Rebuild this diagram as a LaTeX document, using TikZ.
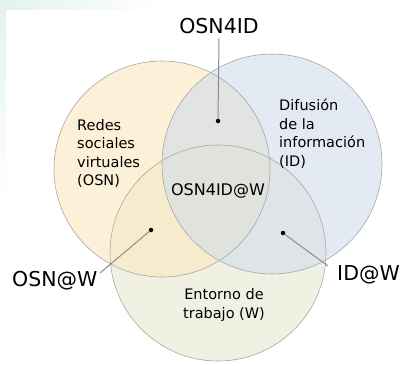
\documentclass[tikz,border=0pt]{standalone}
\usepackage{fontspec}
\setmainfont{DejaVu Sans}
\definecolor{osnfill}{HTML}{FAE8BE}
\definecolor{idfill}{HTML}{D2DCEB}
\definecolor{wfill}{HTML}{E6E8D0}
\definecolor{rimgray}{HTML}{A8A8A0}
\definecolor{pingray}{HTML}{8C8C8C}
\definecolor{mint}{HTML}{E2F3EC}
\begin{document}
\begin{tikzpicture}[x=1pt, y=-1pt,
  venn/.style={fill opacity=0.6},
  rim/.style={draw=rimgray, line width=0.6pt},
  tag/.style={font=\fontsize{20.5}{24}\selectfont, inner sep=0pt},
  setname/.style={font=\fontsize{14.5}{18.5}\selectfont, align=left, inner sep=0pt},
  pin/.style={circle, fill=black, inner sep=0pt, minimum size=4.5pt},
  lead/.style={draw=pingray, line width=1pt}]
	% page and the faint corner
	\useasboundingbox (0,0) rectangle (401,365);
	\fill[white] (0,0) rectangle (401,365);
	\shade[left color=mint, right color=white] (0,0) rectangle (160,9);
	\shade[top color=mint, bottom color=white] (0,0) rectangle (6,200);
	% the three sets
	\fill[venn, wfill] (218,253) circle (108);
	\fill[venn, osnfill] (162,169) circle (108);
	\fill[venn, idfill] (272,164) circle (110);
	\draw[rim] (162,169) circle (108);
	\draw[rim] (218,253) circle (108);
	\draw[rim] (272,164) circle (110);
	% names of the sets (base = last line)
	\node[setname, anchor=base west] (osn) at (77,185.5) {Redes\\sociales\\virtuales\\(OSN)};
	\node[setname, anchor=base west] (id) at (279,166) {Difusión\\de la\\información\\(ID)};
	\node[setname, align=center, anchor=base] (w) at (224,318) {Entorno de\\trabajo (W)};
	\node[font=\fontsize{16}{19}\selectfont, inner sep=0pt, anchor=base] (all) at (218,195) {OSN4ID@W};
	% the pinned regions
	\node[tag, anchor=base] (osnid) at (219,33) {OSN4ID};
	\node[tag, anchor=base west] (osnw) at (12,286) {OSN@W};
	\node[tag, anchor=base east] (idw) at (400,280) {ID@W};
	\node[pin] (p1) at (218,121) {};
	\node[pin] (p2) at (151,230) {};
	\node[pin] (p3) at (283,233) {};
	\coordinate (e1) at ([yshift=-5pt]osnid.south);
	\coordinate (e2) at (100,273);
	\coordinate (e3) at (328,266);
	\draw[lead] (e1) -- (p1);
	\draw[lead] (e2) -- (p2);
	\draw[lead] (e3) -- (p3);
\end{tikzpicture}
\end{document}
